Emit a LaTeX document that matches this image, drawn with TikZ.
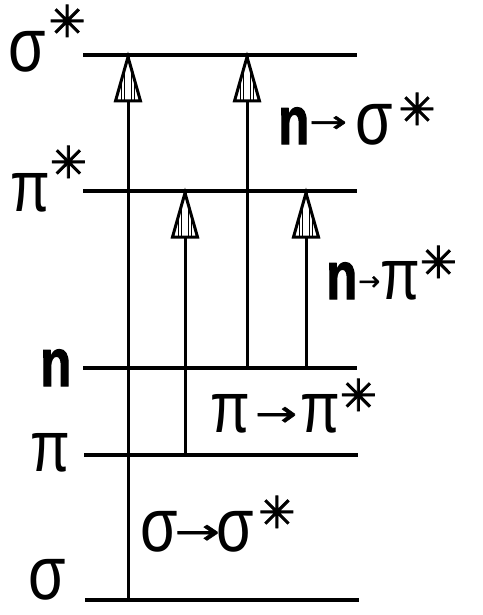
\documentclass[tikz,border=0pt]{standalone}
\usepackage{graphicx}
\usepackage{fontspec}
\setmainfont{Liberation Sans}
\newfontfamily\gk[FakeStretch=0.8]{Liberation Sans}
\newfontfamily\gkb[FakeStretch=0.75,FakeBold=1.5]{Liberation Sans Bold}
\newfontfamily\sym[FakeBold=2]{DejaVu Sans}
\newfontfamily\arr[FakeBold=1.2]{DejaVu Sans}
\usetikzlibrary{calc}
\newcommand{\Gs}{{\gk\fontsize{76}{76}\selectfont σ}}
\newcommand{\Gp}{{\gk\fontsize{72}{72}\selectfont π}}
\newcommand{\Gn}{{\gkb\fontsize{68}{68}\selectfont n}}
\newcommand{\St}[1][30]{\raisebox{#1pt}{\sym\fontsize{44}{44}\selectfont ✳}}
\newcommand{\Ar}[3]{\raisebox{#3pt}{\scalebox{#2}[1]{\arr\fontsize{#1}{#1}\selectfont →}}}
\newcommand{\ahead}[1]{%
  \draw[headline] (#1) -- ($(#1)+(-12.5,44)$) -- ($(#1)+(12.5,44)$) -- cycle;
  \draw[stripe] ($(#1)+(-3.5,14)$) -- ($(#1)+(-3.5,43)$);
  \draw[stripe] ($(#1)+(3.5,14)$) -- ($(#1)+(3.5,43)$);
  \draw[stripe] ($(#1)+(-6.5,24)$) -- ($(#1)+(-6.5,43)$);
  \draw[stripe] ($(#1)+(6.5,24)$) -- ($(#1)+(6.5,43)$);
}
\tikzset{
  level/.style={line width=3.2pt},
  shaft/.style={line width=3pt},
  headline/.style={line width=3pt, line join=miter, fill=white},
  stripe/.style={line width=1pt},
  lbl/.style={inner sep=0pt, anchor=base west},
}
\begin{document}
\begin{tikzpicture}[x=1pt,y=-1pt]
\useasboundingbox (0,0) rectangle (482,615);
% levels
\coordinate (sSl) at (83,55);  \coordinate (sSr) at (357,55);
\coordinate (pSl) at (83,191); \coordinate (pSr) at (357,191);
\coordinate (nl)  at (83,368); \coordinate (nr)  at (357,368);
\coordinate (pl)  at (84,455); \coordinate (pr)  at (358,455);
\coordinate (sl)  at (85,600); \coordinate (sr)  at (359,600);
\draw[level] (sSl) -- (sSr);
\draw[level] (pSl) -- (pSr);
\draw[level] (nl) -- (nr);
\draw[level] (pl) -- (pr);
\draw[level] (sl) -- (sr);
% transitions
\coordinate (a1b) at (128,600); \coordinate (a1t) at (128,57);
\coordinate (a2b) at (185,455); \coordinate (a2t) at (185,193);
\coordinate (a3b) at (247,368); \coordinate (a3t) at (247,57);
\coordinate (a4b) at (306,368); \coordinate (a4t) at (306,193);
\draw[shaft] (a1b) -- (a1t);
\draw[shaft] (a2b) -- (a2t);
\draw[shaft] (a3b) -- (a3t);
\draw[shaft] (a4b) -- (a4t);
\ahead{a1t}
\ahead{a2t}
\ahead{a3t}
\ahead{a4t}
% level labels
\node[lbl] (Lss) at (8,72) {\Gs\hspace{3pt}\St[35]};
\node[lbl] (Lps) at (10,211) {\Gp\St[33]};
\node[lbl] (Ln) at (40,386) {\Gn};
\node[lbl] (Lp) at (30,471) {\Gp};
\node[lbl] (Ls) at (28,599) {\Gs};
% transition labels
\node[lbl] (T1) at (278,144) {\Gn\hspace{0pt}\Ar{30}{1.5}{12}\hspace{8pt}\Gs\hspace{6pt}\St[19]};
\node[lbl] (T2) at (326,299) {\Gn\hspace{1pt}\Ar{26}{1.0}{9}\hspace{0pt}\Gp\hspace{0pt}\St[21]};
\node[lbl] (T3) at (210,432) {\Gp\hspace{5pt}\Ar{36}{1.4}{6}\hspace{3pt}\Gp\St[21]};
\node[lbl] (T4) at (140,551) {\Gs\hspace{-3pt}\Ar{36}{1.5}{7}\hspace{-3pt}\Gs\hspace{4pt}\St[23]};
\end{tikzpicture}
\end{document}
